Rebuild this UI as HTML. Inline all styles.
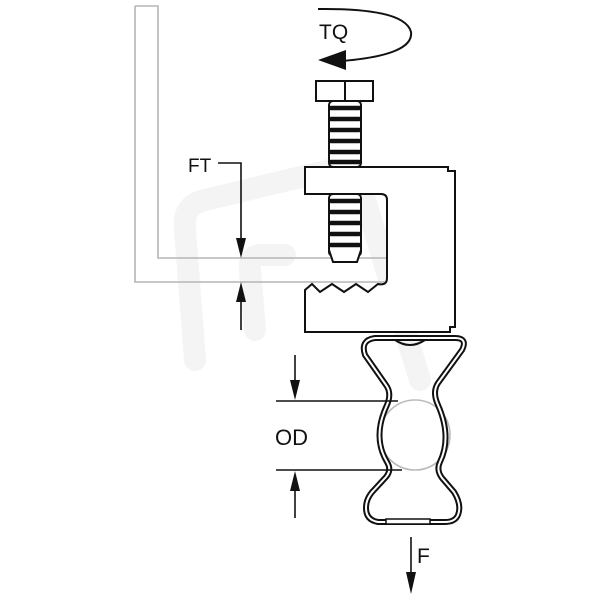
<!DOCTYPE html>
<html><head><style>body{margin:0;background:#fff}svg{display:block}</style></head><body>
<svg width="600" height="600" viewBox="0 0 600 600" xmlns="http://www.w3.org/2000/svg">
<!-- faint watermark -->
<g fill="none" stroke="#f4f4f4" stroke-width="22" stroke-linecap="round" stroke-linejoin="round">
<path d="M195,360 L185,230 Q182,205 205,200 L330,170 Q355,165 362,190 L420,380"/>
<path d="M255,330 L250,270 Q248,255 262,255 L285,255"/>
</g>
<!-- beam -->
<path d="M135,6 L158,6 L158,258 L388,258 M135,6 L135,282 L388,282" fill="none" stroke="#b5b5b5" stroke-width="1.6"/>
<!-- TQ -->
<path d="M318,9 Q405,8 411,32 Q414,55 342,61" fill="none" stroke="#111" stroke-width="2"/>
<polygon points="318,60 346,50 346,70" fill="#111"/>
<text x="319" y="39" font-family="Liberation Sans, sans-serif" font-size="21" fill="#111">TQ</text>
<!-- bolt head -->
<rect x="316" y="81" width="57" height="20" fill="#fff" stroke="#111" stroke-width="2"/>
<line x1="345" y1="81" x2="345" y2="101" stroke="#111" stroke-width="2"/>
<!-- clamp body -->
<path d="M305,167 L448,167 L448,171 L455,171 L455,327 L450,327 L450,332 L305,332 L305,290 L312,284 L320,292 L332,284 L344,292 L356,284 L368,292 L378,284 Q387,286 387,278 L387,200 Q387,194 381,194 L305,194 Z" fill="#fff" stroke="#111" stroke-width="2"/>
<!-- threads -->
<g fill="#fff" stroke="#111" stroke-width="2">
<rect x="329" y="101" width="32" height="66" rx="4"/>
<rect x="329" y="194" width="32" height="62" rx="4"/>
</g>
<g stroke="#111" stroke-width="4.5" stroke-linecap="round">
<line x1="331" y1="108" x2="359" y2="108"/><line x1="331" y1="119" x2="359" y2="119"/>
<line x1="331" y1="130" x2="359" y2="130"/><line x1="331" y1="141" x2="359" y2="141"/>
<line x1="331" y1="152" x2="359" y2="152"/><line x1="331" y1="162" x2="359" y2="162"/>
<line x1="331" y1="201" x2="359" y2="201"/><line x1="331" y1="212" x2="359" y2="212"/>
<line x1="331" y1="223" x2="359" y2="223"/><line x1="331" y1="234" x2="359" y2="234"/>
<line x1="331" y1="245" x2="359" y2="245"/>
</g>
<path d="M329,250 L333,262 L357,262 L361,250" fill="#fff" stroke="#111" stroke-width="2"/>
<!-- FT -->
<text x="188" y="172" font-family="Liberation Sans, sans-serif" font-size="19" fill="#111">FT</text>
<path d="M218,163 L241,163 L241,245" fill="none" stroke="#111" stroke-width="1.6"/>
<polygon points="241,258 236,238 246,238" fill="#111"/>
<line x1="241" y1="295" x2="241" y2="330" stroke="#111" stroke-width="1.6"/>
<polygon points="241,282 236,302 246,302" fill="#111"/>
<!-- circle -->
<circle cx="415" cy="435" r="35" fill="none" stroke="#bbb" stroke-width="1.6"/>
<!-- clip -->
<g fill="none" stroke-linejoin="round">
<path d="M375,338 L455,338 Q468,338 462,350 L438,383 Q432,392 438,405 Q452,437 440,462 Q436,470 442,478 L454,492 Q462,505 458,515 Q455,522 445,522 L378,522 Q366,520 366,508 Q366,498 374,490 L386,477 Q392,470 387,462 Q372,437 387,405 Q392,393 386,385 L365,355 Q360,340 375,338 Z" stroke="#111" stroke-width="6"/>
<path d="M375,338 L455,338 Q468,338 462,350 L438,383 Q432,392 438,405 Q452,437 440,462 Q436,470 442,478 L454,492 Q462,505 458,515 Q455,522 445,522 L378,522 Q366,520 366,508 Q366,498 374,490 L386,477 Q392,470 387,462 Q372,437 387,405 Q392,393 386,385 L365,355 Q360,340 375,338 Z" stroke="#fff" stroke-width="2"/>
</g>
<path d="M395,340 Q410,350 425,340" fill="none" stroke="#111" stroke-width="2"/>
<rect x="386" y="519" width="44" height="5" fill="#fff" stroke="#111" stroke-width="1.5"/>
<!-- OD -->
<line x1="276" y1="401" x2="398" y2="401" stroke="#111" stroke-width="1.6"/>
<line x1="276" y1="470" x2="402" y2="470" stroke="#111" stroke-width="1.6"/>
<line x1="295" y1="355" x2="295" y2="388" stroke="#111" stroke-width="1.6"/>
<polygon points="295,400 290,380 300,380" fill="#111"/>
<line x1="295" y1="485" x2="295" y2="518" stroke="#111" stroke-width="1.6"/>
<polygon points="295,471 290,491 300,491" fill="#111"/>
<text x="275" y="445" font-family="Liberation Sans, sans-serif" font-size="22" fill="#111">OD</text>
<!-- F -->
<line x1="411" y1="537" x2="411" y2="578" stroke="#111" stroke-width="1.6"/>
<polygon points="411,594 406,572 416,572" fill="#111"/>
<text x="417" y="563" font-family="Liberation Sans, sans-serif" font-size="21" fill="#111">F</text>
</svg>
</body></html>
